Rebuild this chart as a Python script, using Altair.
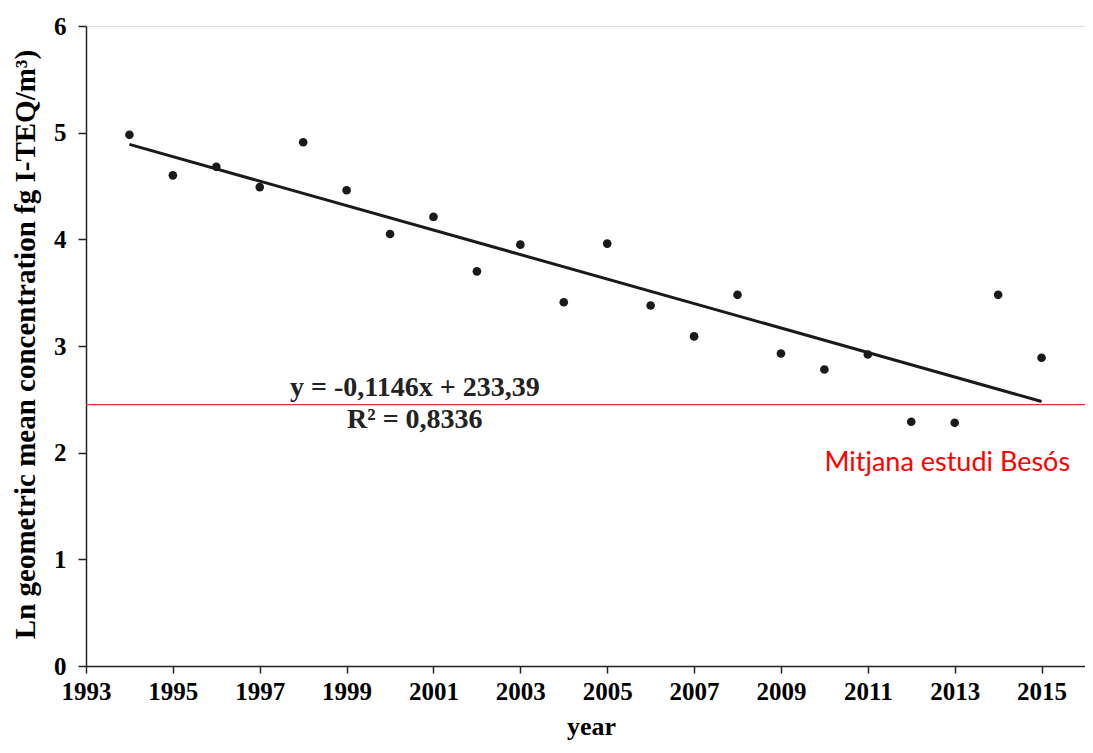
import altair as alt
import pandas as pd

years = list(range(1994, 2016))
values = [4.98, 4.60, 4.68, 4.49, 4.91, 4.46, 4.05, 4.21, 3.70, 3.95, 3.41,
          3.96, 3.38, 3.09, 3.48, 2.93, 2.78, 2.92, 2.29, 2.28, 3.48, 2.89]

trend_x = [1994, 2015]
trend_y = [4.89, 2.48]

ref_value = 2.45
ref_x = [1993, 2016.2]

x_ticks = [1993, 1995, 1997, 1999, 2001, 2003, 2005, 2007, 2009, 2011, 2013, 2015]
y_ticks = [0, 1, 2, 3, 4, 5, 6]

eq_text = ["y = -0,1146x + 233,39", "R² = 0,8336"]
eq_x = [2000.57, 2000.57]
eq_y = [2.61, 2.31]

ref_label = "Mitjana estudi Besós"
ref_label_x = 2010.0
ref_label_y = 1.90

pts = pd.DataFrame({"year": years, "value": values})
trend = pd.DataFrame({"year": trend_x, "value": trend_y})
refdf = pd.DataFrame({"year": ref_x, "value": [ref_value, ref_value]})
eqdf = pd.DataFrame({"year": eq_x, "value": eq_y, "text": eq_text})
labdf = pd.DataFrame({"year": [ref_label_x], "value": [ref_label_y], "text": [ref_label]})

SERIF = "Liberation Serif"

xscale = alt.Scale(domain=[1993, 2016], nice=False, zero=False)
yscale = alt.Scale(domain=[0, 6], nice=False)

xaxis = alt.Axis(values=x_ticks, format="d", title="year", grid=False,
                 labelFont=SERIF, labelFontWeight="bold", labelFontSize=25,
                 labelColor="black", titleFont=SERIF, titleFontWeight="bold",
                 titleFontSize=26, titleColor="black", domainColor="#222",
                 tickColor="#222", domainWidth=1.5, tickWidth=1.5, tickSize=7,
                 labelPadding=6, titleX=505, titleY=60, titleBaseline="middle",
                 labelFlush=False)
yaxis = alt.Axis(values=y_ticks, format="d",
                 title="Ln geometric mean concentration fg I-TEQ/m³)",
                 grid=False, labelFont=SERIF, labelFontWeight="bold",
                 labelFontSize=25, labelColor="black", titleFont=SERIF,
                 titleFontWeight="bold", titleFontSize=29, titleColor="black",
                 domainColor="#222", tickColor="#222", domainWidth=1.5,
                 tickWidth=1.5, tickSize=8, labelPadding=12,
                 titleX=-61, titleY=318, titleAngle=270, titleAlign="center",
                 titleBaseline="middle")

base_x = alt.X("year:Q", scale=xscale, axis=xaxis)
base_y = alt.Y("value:Q", scale=yscale, axis=yaxis)

ref = alt.Chart(refdf).mark_line(color="#e8322f", strokeWidth=1.2, clip=False).encode(
    x=alt.X("year:Q", scale=xscale), y=alt.Y("value:Q", scale=yscale))

line = alt.Chart(trend).mark_line(color="#1a1a1a", strokeWidth=3).encode(
    x=alt.X("year:Q", scale=xscale), y=alt.Y("value:Q", scale=yscale))

points = alt.Chart(pts).mark_circle(color="#1a1a1a", opacity=1, size=75).encode(
    x=base_x, y=base_y)

eq = alt.Chart(eqdf).mark_text(font=SERIF, fontWeight="bold", fontSize=28,
                               color="#222", align="center", baseline="middle").encode(
    x=alt.X("year:Q", scale=xscale), y=alt.Y("value:Q", scale=yscale), text="text:N")

lab = alt.Chart(labdf).mark_text(font="Lato", fontSize=27, color="#ff0000",
                                 align="left", baseline="middle").encode(
    x=alt.X("year:Q", scale=xscale), y=alt.Y("value:Q", scale=yscale), text="text:N")

chart = alt.layer(points, ref, line, eq, lab).properties(
    width=999, height=640,
    autosize=alt.AutoSizeParams(type="none"),
    padding={"left": 78, "top": 18, "right": 0, "bottom": 79},
).configure_view(stroke=None).configure(background="white")

chart.save("out.html", embed_options={"renderer": "svg", "actions": False})
